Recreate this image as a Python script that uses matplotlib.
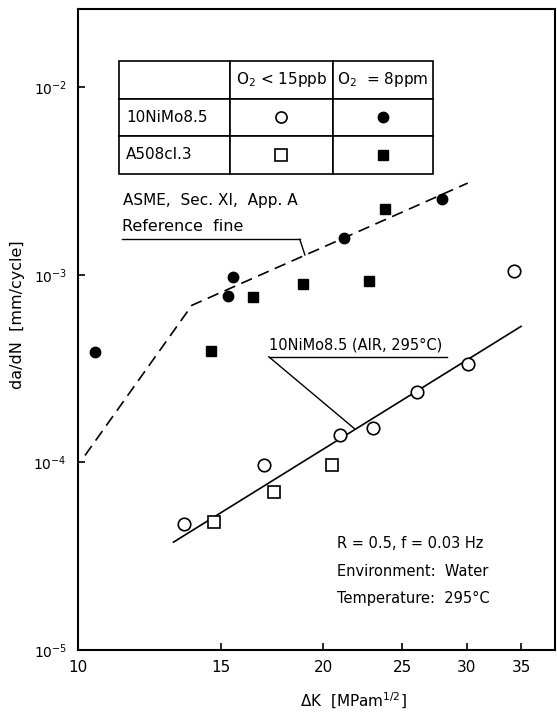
import numpy as np
import matplotlib.pyplot as plt
from matplotlib.ticker import FixedLocator, FixedFormatter, NullLocator

# 10NiMo8.5, O2 < 15 ppb (open circles)
ni_low_dk = [13.5, 16.9, 21.0, 23.0, 26.1, 30.1, 34.3]
ni_low_rate = [4.7e-5, 9.7e-5, 1.40e-4, 1.53e-4, 2.39e-4, 3.34e-4, 1.05e-3]
# 10NiMo8.5, O2 = 8 ppm (filled circles)
ni_high_dk = [10.5, 15.3, 15.5, 21.2, 28.0]
ni_high_rate = [3.9e-4, 7.7e-4, 9.7e-4, 1.58e-3, 2.55e-3]
# A508 cl.3, O2 < 15 ppb (open squares)
a508_low_dk = [14.7, 17.4, 20.5]
a508_low_rate = [4.8e-5, 7.0e-5, 9.7e-5]
# A508 cl.3, O2 = 8 ppm (filled squares)
a508_high_dk = [14.55, 16.4, 18.9, 22.8, 23.8]
a508_high_rate = [3.94e-4, 7.66e-4, 9.0e-4, 9.25e-4, 2.24e-3]

# ASME Sec. XI App. A reference line (dashed) and air line for 10NiMo8.5
asme_dk = [10.2, 13.8, 30.1]
asme_rate = [1.09e-4, 6.89e-4, 3.09e-3]
air_dk = [13.1, 35.0]
air_rate = [3.76e-5, 5.32e-4]

x_ticks = [10, 15, 20, 25, 30, 35]
y_ticks = [1e-5, 1e-4, 1e-3, 1e-2]
y_tick_labels = ['$10^{-5}$', '$10^{-4}$', '$10^{-3}$', '$10^{-2}$']

table_header = ['', 'O$_2$ < 15ppb', 'O$_2$  = 8ppm']
table_rows = ['10NiMo8.5', 'A508cl.3']


def on_line(xs, ys, x):
    # point on a straight log-log segment
    return np.exp(np.interp(np.log(x), np.log(xs), np.log(ys)))


plt.rcParams['font.family'] = ['DejaVu Sans']
plt.rcParams['mathtext.fontset'] = 'dejavusans'

fig = plt.figure(figsize=(5.57, 7.15), dpi=100)
ax = fig.add_axes([0.140, 0.0909, 0.856, 0.8965])
ax.set_xscale('log')
ax.set_yscale('log')
ax.set_xlim(10, 38.5)
ax.set_ylim(1e-5, 2.62e-2)

# lines
ax.plot(asme_dk, asme_rate, color='black', lw=1.2, ls=(0, (7, 4)))
ax.plot(air_dk, air_rate, color='black', lw=1.2)

# data
ax.plot(ni_low_dk, ni_low_rate, 'o', mfc='white', mec='black', ms=9, mew=1.2, zorder=3)
ax.plot(ni_high_dk, ni_high_rate, 'o', color='black', ms=7.5, zorder=3)
ax.plot(a508_low_dk, a508_low_rate, 's', mfc='white', mec='black', ms=9, mew=1.2, zorder=3)
ax.plot(a508_high_dk, a508_high_rate, 's', color='black', ms=7.5, zorder=3)

# ticks
ax.xaxis.set_major_locator(FixedLocator(x_ticks))
ax.xaxis.set_major_formatter(FixedFormatter([str(t) for t in x_ticks]))
ax.xaxis.set_minor_locator(NullLocator())
ax.yaxis.set_major_locator(FixedLocator(y_ticks))
ax.yaxis.set_major_formatter(FixedFormatter(y_tick_labels))
ax.yaxis.set_minor_locator(NullLocator())
ax.tick_params(axis='x', direction='in', length=5, width=1.2, pad=7, labelsize=11)
ax.tick_params(axis='y', direction='in', length=5, width=1.2, pad=8, labelsize=10)
for s in ax.spines.values():
    s.set_linewidth(1.5)

ax.set_xlabel('ΔK  [MPam$^{1/2}$]', fontsize=11)
ax.xaxis.set_label_coords(0.577, -0.064)
ax.set_ylabel('da/dN  [mm/cycle]', fontsize=11.5)
ax.yaxis.set_label_coords(-0.111, 0.523)

# legend table
tb_left, tb_bottom, tb_w, tb_h = 0.087, 0.743, 0.658, 0.176
col_w = [0.351, 0.330, 0.319]
cells = [table_header] + [[r, '', ''] for r in table_rows]
tbl = ax.table(cellText=cells, cellLoc='center', colWidths=col_w,
               bbox=[tb_left, tb_bottom, tb_w, tb_h])
tbl.auto_set_font_size(False)
tbl.set_fontsize(11)
for (r, c), cell in tbl.get_celld().items():
    cell.set_linewidth(1.2)
    if c == 0:
        cell.set_text_props(ha='left')
        cell.PAD = 0.06
col_cx = [tb_left + tb_w * (col_w[0] + col_w[1] / 2),
          tb_left + tb_w * (col_w[0] + col_w[1] + col_w[2] / 2)]
row_cy = [tb_bottom + tb_h * 1.5 / 3, tb_bottom + tb_h * 0.5 / 3]
kw = dict(transform=ax.transAxes, zorder=5, clip_on=False)
ax.plot(col_cx[0], row_cy[0], 'o', mfc='white', mec='black', ms=8, mew=1.2, **kw)
ax.plot(col_cx[1], row_cy[0], 'o', color='black', ms=7.5, **kw)
ax.plot(col_cx[0], row_cy[1], 's', mfc='white', mec='black', ms=8, mew=1.2, **kw)
ax.plot(col_cx[1], row_cy[1], 's', color='black', ms=7.5, **kw)

# ASME annotation
ax.text(0.095, 0.702, 'ASME,  Sec. XI,  App. A', transform=ax.transAxes,
        fontsize=11, va='center')
ax.text(0.093, 0.661, 'Reference  fine', transform=ax.transAxes,
        fontsize=11.5, va='center')
ax.plot([0.092, 0.465], [0.641, 0.641], color='black', lw=1.0, transform=ax.transAxes)
ax.annotate('', xy=(19.0, on_line(asme_dk, asme_rate, 19.0)), xycoords='data',
            xytext=(0.465, 0.641), textcoords='axes fraction',
            arrowprops=dict(arrowstyle='-', color='black', lw=1.0,
                            shrinkA=0, shrinkB=0))

# air line annotation
ax.text(0.400, 0.476, '10NiMo8.5 (AIR, 295°C)', transform=ax.transAxes,
        fontsize=10.5, va='center')
ax.plot([0.400, 0.774], [0.4576, 0.4576], color='black', lw=1.0, transform=ax.transAxes)
ax.annotate('', xy=(21.9, on_line(air_dk, air_rate, 21.9)), xycoords='data',
            xytext=(0.400, 0.4576), textcoords='axes fraction',
            arrowprops=dict(arrowstyle='-', color='black', lw=1.0,
                            shrinkA=0, shrinkB=0))

# test conditions
ax.text(0.543, 0.166, 'R = 0.5, f = 0.03 Hz', transform=ax.transAxes,
        fontsize=10.5, va='center')
ax.text(0.543, 0.122, 'Environment:  Water', transform=ax.transAxes,
        fontsize=10.5, va='center')
ax.text(0.543, 0.081, 'Temperature:  295°C', transform=ax.transAxes,
        fontsize=10.5, va='center')

fig.savefig('out.png', dpi=100, facecolor='white')
